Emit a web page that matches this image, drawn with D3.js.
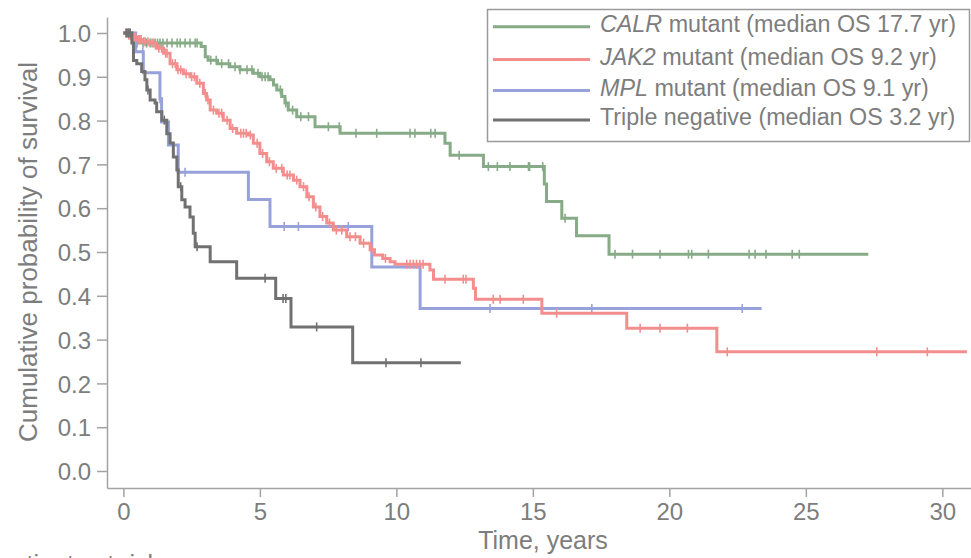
<!DOCTYPE html>
<html>
<head>
<meta charset="utf-8">
<script src="https://cdn.jsdelivr.net/npm/d3@7"></script>
<style>
  html, body { margin: 0; padding: 0; background: #fff; overflow: hidden; }
  svg { display: block; font-family: "Liberation Sans", Arial, Helvetica, sans-serif; }
</style>
</head>
<body>
<svg id="chart" width="971" height="558"></svg>
<script>
// Kaplan–Meier overall survival by driver mutation.
// Each step is [time in years, survival after the event]; censored times get tick marks.

const calrSteps = [
  [0.35, 0.977], [2.85, 0.969], [3.0, 0.946], [3.1, 0.938], [3.45, 0.93], [3.9, 0.923],
  [4.27, 0.916], [4.76, 0.908], [5.0, 0.9], [5.37, 0.893], [5.5, 0.881], [5.62, 0.87],
  [5.8, 0.855], [5.92, 0.84], [6.04, 0.824], [6.35, 0.809], [7.02, 0.786], [7.94, 0.771],
  [11.78, 0.748], [11.97, 0.721], [13.19, 0.695], [15.42, 0.655], [15.5, 0.615],
  [16.06, 0.577], [16.6, 0.537], [17.79, 0.495]
];
const calrCensored = [
  0.5, 0.72, 0.85, 0.98, 1.16, 1.25, 1.34, 1.45, 1.6, 1.78, 1.97, 2.08, 2.26, 2.44, 2.63, 2.7,
  3.2, 3.4, 3.6, 3.85, 4.09, 4.27, 4.53, 4.71, 4.93, 5.08, 5.19, 5.3, 5.75, 5.95, 6.2, 6.5,
  6.78, 7.51, 7.91, 8.52, 9.28, 10.5, 10.68, 11.26, 11.42, 12.3, 13.37, 13.7, 14.16,
  14.84, 14.88, 15.36, 16.18, 18.01, 18.65, 19.66, 20.7, 20.82, 21.43, 22.92, 23.14,
  23.54, 24.5, 24.76
];
const calrEnd = 27.29;

const jak2Steps = [
  [0.15, 0.995], [0.3, 0.99], [0.5, 0.985], [0.7, 0.98], [0.98, 0.977], [1.2, 0.965],
  [1.47, 0.954], [1.71, 0.93], [1.96, 0.916], [2.2, 0.907], [2.44, 0.9], [2.69, 0.885],
  [2.93, 0.862], [3.05, 0.847], [3.18, 0.824], [3.42, 0.817], [3.66, 0.801], [3.91, 0.782],
  [4.15, 0.771], [4.58, 0.767], [4.76, 0.748], [5.0, 0.725], [5.25, 0.706], [5.49, 0.691],
  [5.86, 0.676], [6.23, 0.664], [6.47, 0.649], [6.72, 0.626], [6.96, 0.603], [7.2, 0.581],
  [7.45, 0.566], [7.69, 0.55], [8.18, 0.535], [8.67, 0.52], [9.04, 0.505], [9.2, 0.493],
  [9.5, 0.485], [9.77, 0.478], [9.95, 0.472], [11.23, 0.459], [11.36, 0.438],
  [12.82, 0.417], [12.9, 0.392], [15.33, 0.36], [18.44, 0.326], [21.74, 0.272]
];
const jak2Censored = [
  0.1, 0.2, 0.25, 0.35, 0.4, 0.45, 0.55, 0.6, 0.65, 0.75, 0.8, 0.9, 1.05, 1.1, 1.3, 1.4,
  1.55, 1.6, 1.8, 1.9, 2.0, 2.1, 2.3, 2.5, 2.6, 2.8, 3.0, 3.1, 3.3, 3.5, 3.6, 3.8, 4.0,
  4.3, 4.4, 4.5, 4.65, 4.9, 5.1, 5.35, 5.6, 5.8, 6.0, 6.1, 6.35, 6.6, 6.8, 7.05, 7.3,
  7.55, 7.8, 8.0, 8.3, 8.5, 8.8, 9.1, 9.6, 10.38, 10.5, 10.62, 10.74, 10.86,
  10.98, 11.78, 12.45, 12.55, 13.55, 13.8, 14.65, 15.87, 18.93, 19.66, 20.66, 22.12,
  27.6, 29.45
];
const jak2End = 30.9;

const mplSteps = [
  [0.45, 0.957], [0.73, 0.909], [1.34, 0.85], [1.4, 0.797], [1.65, 0.744], [2.01, 0.682],
  [4.58, 0.62], [5.37, 0.558], [9.1, 0.466], [10.87, 0.371]
];
const mplCensored = [0.2, 0.71, 1.34, 2.26, 5.89, 6.41, 8.24, 13.43, 17.16, 22.67];
const mplEnd = 23.38;

const tripleSteps = [
  [0.31, 0.977], [0.37, 0.937], [0.49, 0.93], [0.67, 0.912], [0.79, 0.893], [0.86, 0.87],
  [0.98, 0.847], [1.16, 0.84], [1.22, 0.82], [1.41, 0.801], [1.59, 0.77], [1.71, 0.749],
  [1.83, 0.717], [1.96, 0.687], [2.01, 0.649], [2.14, 0.619], [2.26, 0.603], [2.44, 0.58],
  [2.56, 0.543], [2.63, 0.512], [3.18, 0.478], [4.15, 0.44], [5.58, 0.394], [6.14, 0.329],
  [8.40, 0.247]
];
const tripleCensored = [0.1, 0.15, 0.2, 0.25, 0.9, 1.5, 2.1, 2.7, 5.19, 5.85, 5.95, 7.08, 9.62, 10.9];
const tripleEnd = 12.36;

// Legend text: italic gene name, then the rest
const legendGenes = ["CALR", "JAK2", "MPL", ""];
const legendRest = [
  " mutant (median OS 17.7 yr)",
  " mutant (median OS 9.2 yr)",
  " mutant (median OS 9.1 yr)",
  "Triple negative (median OS 3.2 yr)"
];

const xTicks = [0, 5, 10, 15, 20, 25, 30];
const yTicks = [0, 0.1, 0.2, 0.3, 0.4, 0.5, 0.6, 0.7, 0.8, 0.9, 1.0];

const groups = [
  { steps: calrSteps,   censored: calrCensored,   end: calrEnd,   color: "#86ab86" },
  { steps: mplSteps,    censored: mplCensored,    end: mplEnd,    color: "#98a2da" },
  { steps: jak2Steps,   censored: jak2Censored,   end: jak2End,   color: "#f48d8d" },
  { steps: tripleSteps, censored: tripleCensored, end: tripleEnd, color: "#717171" }
];
const legendColors = ["#86ab86", "#f48d8d", "#98a2da", "#717171"];

const svg = d3.select("#chart");
const axisColor = "#a3a3a3";
const textColor = "#7d7d7d";

const x = d3.scaleLinear().domain([-0.6, 31.05]).range([107, 971]);
const y = d3.scaleLinear().domain([-0.0388, 1.0365]).range([488, 17]);

// Axes
const xAxis = svg.append("g")
  .attr("transform", `translate(0,${y.range()[0]})`)
  .call(d3.axisBottom(x).tickValues(xTicks).tickFormat(d3.format("d")).tickSize(9).tickSizeOuter(0).tickPadding(6));
const yAxis = svg.append("g")
  .attr("transform", `translate(${x.range()[0]},0)`)
  .call(d3.axisLeft(y).tickValues(yTicks).tickFormat(d3.format(".1f")).tickSize(10).tickSizeOuter(0).tickPadding(6));

[xAxis, yAxis].forEach(g => {
  g.select(".domain").attr("stroke", axisColor).attr("stroke-width", 1.5);
  g.selectAll(".tick line").attr("stroke", axisColor).attr("stroke-width", 1.5);
  g.selectAll(".tick text").attr("fill", textColor).attr("font-size", 24)
    .attr("font-family", "'Liberation Sans', Arial, sans-serif");
});
yAxis.selectAll(".tick text").attr("dy", "0.36em");

// Axis titles
svg.append("text")
  .attr("x", 543).attr("y", 549)
  .attr("text-anchor", "middle")
  .attr("fill", textColor).attr("font-size", 25)
  .text("Time, years");

svg.append("text")
  .attr("transform", "translate(37,252) rotate(-90)")
  .attr("text-anchor", "middle")
  .attr("fill", textColor).attr("font-size", 26)
  .text("Cumulative probability of survival");

// Caption of the risk table below the axis (falls off the bottom edge)
svg.append("text")
  .attr("x", 160).attr("y", 573)
  .attr("text-anchor", "end")
  .attr("fill", textColor).attr("font-size", 25)
  .text("Number of patients at risk");

// Survival step curves
const line = d3.line().x(d => x(d[0])).y(d => y(d[1])).curve(d3.curveStepAfter);

function survivalAt(steps, t) {
  let s = 1;
  for (const [ts, v] of steps) { if (ts <= t) s = v; else break; }
  return s;
}

groups.forEach(g => {
  const last = g.steps[g.steps.length - 1][1];
  const pts = [[0, 1], ...g.steps, [g.end, last]];
  const grp = svg.append("g");
  grp.append("path")
    .attr("d", line(pts))
    .attr("fill", "none")
    .attr("stroke", g.color)
    .attr("stroke-width", 3)
    .attr("stroke-linejoin", "miter");
  grp.selectAll("line.cens")
    .data(g.censored)
    .join("line")
    .attr("class", "cens")
    .attr("x1", d => x(d)).attr("x2", d => x(d))
    .attr("y1", d => y(survivalAt(g.steps, d)) - 4.5)
    .attr("y2", d => y(survivalAt(g.steps, d)) + 4.5)
    .attr("stroke", g.color)
    .attr("stroke-width", 1.6);
});

// Legend
const legend = svg.append("g");
legend.append("rect")
  .attr("x", 487.5).attr("y", 9.5)
  .attr("width", 482).attr("height", 132)
  .attr("fill", "#fff")
  .attr("stroke", "#9a9a9a").attr("stroke-width", 1.5);

const rowY = [26.7, 59.5, 90.5, 120];
legendRest.forEach((rest, i) => {
  legend.append("line")
    .attr("x1", 493).attr("x2", 590)
    .attr("y1", rowY[i]).attr("y2", rowY[i])
    .attr("stroke", legendColors[i]).attr("stroke-width", 3);
  const t = legend.append("text")
    .attr("x", 600).attr("y", rowY[i] + 5)
    .attr("fill", textColor).attr("font-size", 23.3);
  if (legendGenes[i]) t.append("tspan").attr("font-style", "italic").text(legendGenes[i]);
  t.append("tspan").text(rest);
});
</script>
</body>
</html>
